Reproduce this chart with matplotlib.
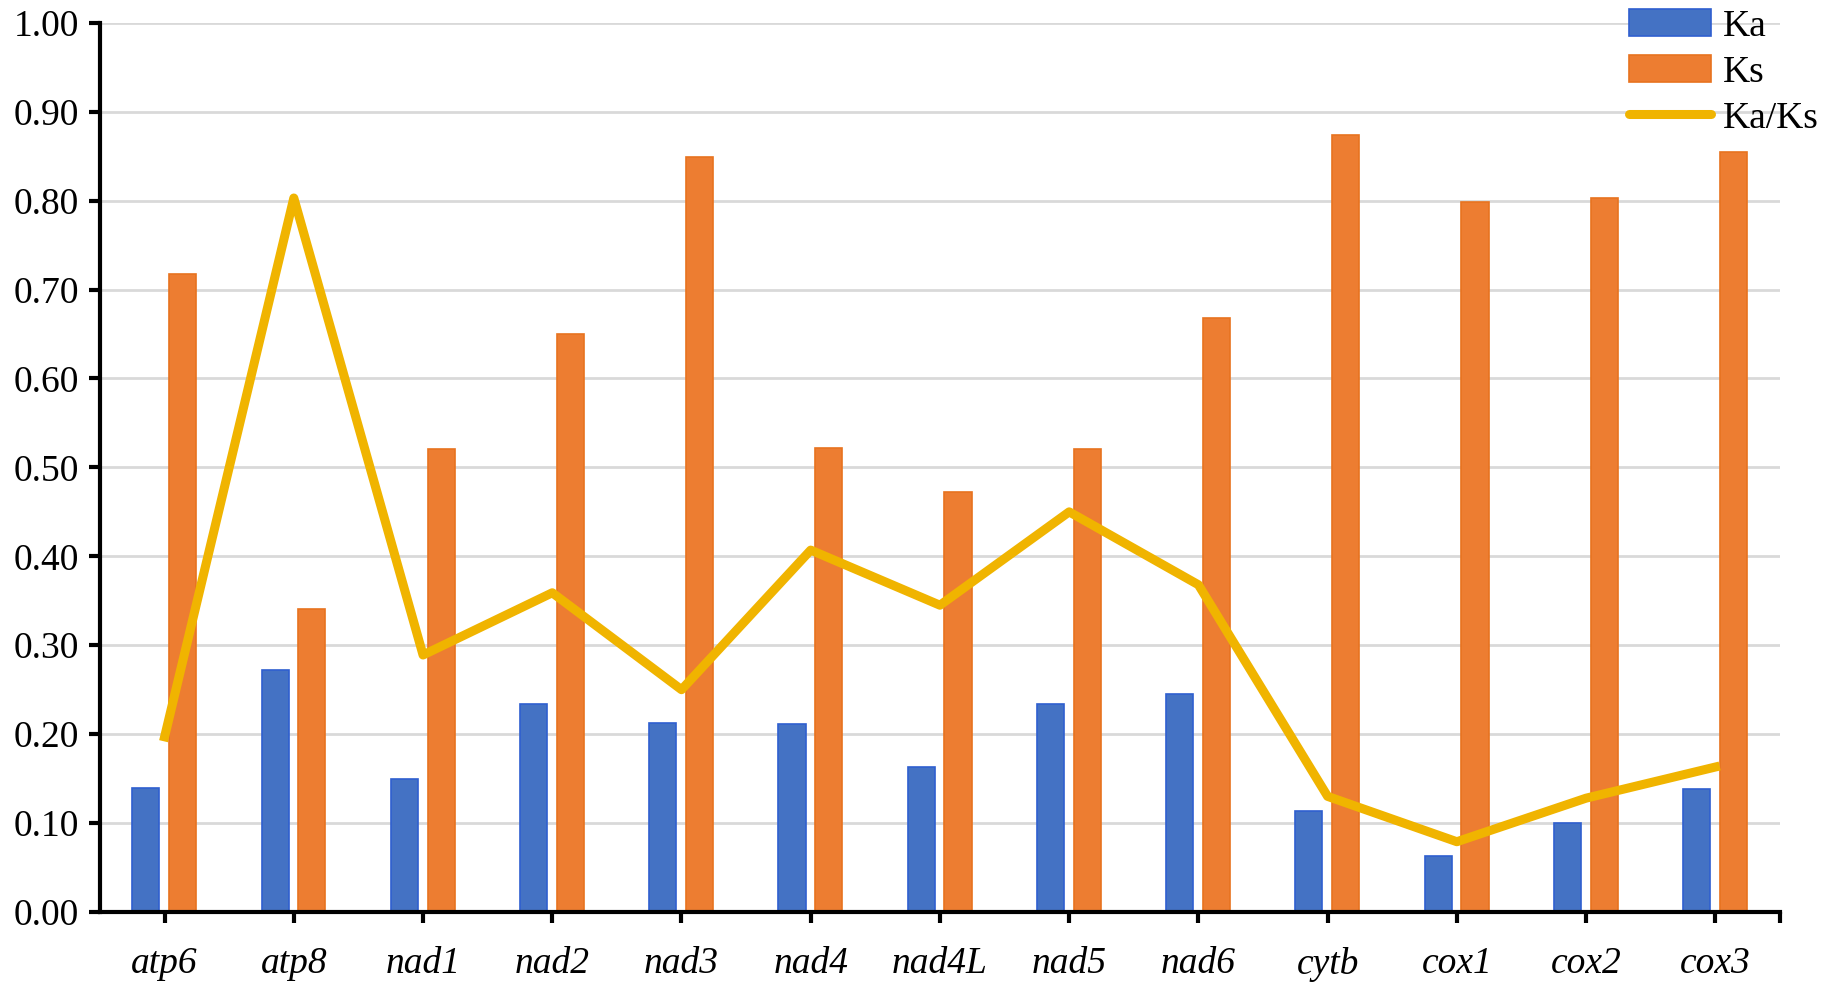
import matplotlib
matplotlib.use("Agg")
import matplotlib.pyplot as plt
import numpy as np

# gene names and substitution rates
genes = ["atp6", "atp8", "nad1", "nad2", "nad3", "nad4", "nad4L",
         "nad5", "nad6", "cytb", "cox1", "cox2", "cox3"]
ka = [0.139, 0.272, 0.150, 0.234, 0.213, 0.211, 0.163,
      0.234, 0.245, 0.113, 0.063, 0.100, 0.138]
ks = [0.718, 0.341, 0.521, 0.650, 0.849, 0.522, 0.472,
      0.521, 0.668, 0.874, 0.799, 0.803, 0.855]
ka_ks = [0.197, 0.803, 0.289, 0.359, 0.250, 0.407, 0.345,
         0.450, 0.368, 0.130, 0.079, 0.128, 0.163]
yticks = [0.0, 0.1, 0.2, 0.3, 0.4, 0.5, 0.6, 0.7, 0.8, 0.9, 1.0]

plt.rcParams['font.family'] = ['Liberation Serif', 'DejaVu Serif']

fig = plt.figure(figsize=(18.31, 9.93), dpi=100)
ax = fig.add_axes([0.0546, 0.0816, 0.9175, 0.8954])

x = np.arange(len(genes))
w = 0.21
b1 = ax.bar(x - 0.145, ka, width=w, color="#4472C4", edgecolor="#2F5FCF",
            linewidth=1.2, label="Ka", zorder=2)
b2 = ax.bar(x + 0.14, ks, width=w, color="#ED7D31", edgecolor="#E8731F",
            linewidth=1.2, label="Ks", zorder=2)
l1, = ax.plot(x, ka_ks, color="#F0B400", linewidth=6.5, label="Ka/Ks",
              zorder=3)

ax.set_xlim(-0.5, len(genes) - 0.5)
ax.set_ylim(0, 1.0)
ax.set_yticks(yticks)
ax.set_yticklabels(["%.2f" % v for v in yticks])
ax.set_xticks(list(x) + [len(genes) - 0.5])
ax.set_xticklabels(genes + [""], fontstyle="italic")

ax.yaxis.grid(True, color="#D9D9D9", linewidth=2, zorder=0)
ax.set_axisbelow(True)
for s in ["top", "right"]:
    ax.spines[s].set_visible(False)
for s in ["left", "bottom"]:
    ax.spines[s].set_linewidth(3)
    ax.spines[s].set_color("black")
ax.tick_params(axis="both", labelsize=27, width=3, length=8, color="black")
ax.tick_params(axis="y", pad=7)
ax.tick_params(axis="x", pad=17)

leg = ax.legend([b1, b2, l1], ["Ka", "Ks", "Ka/Ks"], loc="upper left",
                bbox_to_anchor=(1610 / 1831, 1 + 10 / 993),
                bbox_transform=fig.transFigure, frameon=False, fontsize=27,
                borderpad=0, handlelength=2.2, handleheight=0.75,
                labelspacing=0.3, handletextpad=0.3)
for h in leg.get_lines():
    h.set_solid_capstyle("round")

fig.savefig("out.png", dpi=100)
